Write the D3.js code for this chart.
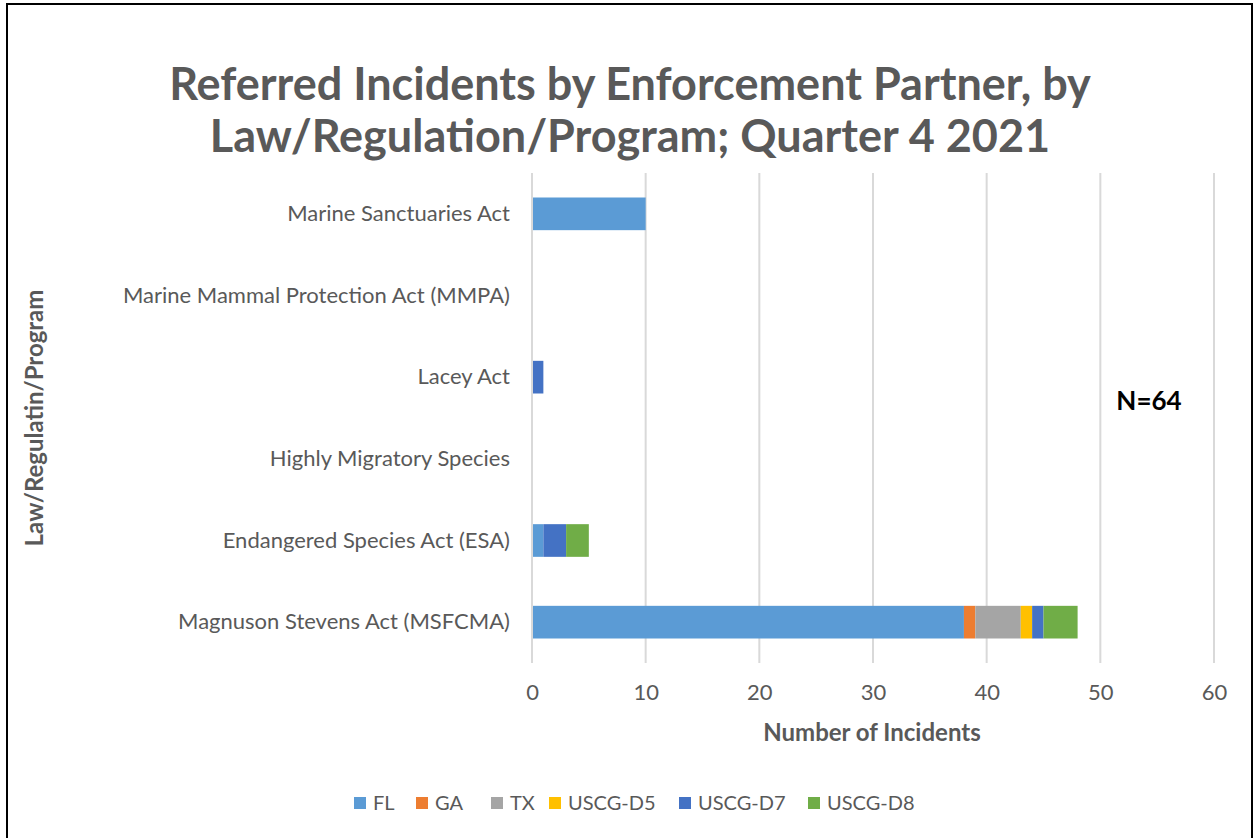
<!DOCTYPE html>
<html lang="en">
<head>
<meta charset="UTF-8">
<script src="https://d3js.org/d3.v7.min.js"></script>
<style>
  body { margin: 0; background: #fff; }
  svg { font-family: Lato, "Open Sans", sans-serif; }
</style>
</head>
<body>
<script>
// data
const laws = ["Marine Sanctuaries Act", "Marine Mammal Protection Act (MMPA)", "Lacey Act",
  "Highly Migratory Species", "Endangered Species Act (ESA)", "Magnuson Stevens Act (MSFCMA)"];
const partners = ["FL", "GA", "TX", "USCG-D5", "USCG-D7", "USCG-D8"];
const FL     = [10, 0, 0, 0, 1, 38];
const GA     = [0, 0, 0, 0, 0, 1];
const TX     = [0, 0, 0, 0, 0, 4];
const D5     = [0, 0, 0, 0, 0, 1];
const D7     = [0, 0, 1, 0, 2, 1];
const D8     = [0, 0, 0, 0, 2, 3];
const xTicks = [0, 10, 20, 30, 40, 50, 60];
const colors = ["#5b9bd5", "#ed7d31", "#a5a5a5", "#ffc000", "#4472c4", "#70ad47"];

const w = 1255, h = 838;
const svg = d3.select("body").append("svg").attr("width", w).attr("height", h);

// frame
svg.append("rect").attr("x", 7).attr("y", 4).attr("width", 1245).attr("height", 840)
  .attr("fill", "none").attr("stroke", "#000").attr("stroke-width", 2);

// title
const title = svg.append("text").attr("text-anchor", "middle")
  .attr("font-size", 45).attr("font-weight", "bold").attr("fill", "#595959");
title.append("tspan").attr("x", 630).attr("y", 100).text("Referred Incidents by Enforcement Partner, by");
title.append("tspan").attr("x", 630).attr("y", 152).text("Law/Regulation/Program; Quarter 4 2021");

const table = laws.map((law, i) => {
  const row = { law };
  [FL, GA, TX, D5, D7, D8].forEach((s, j) => row[partners[j]] = s[i]);
  return row;
});
const stacked = d3.stack().keys(partners)(table);

const x = d3.scaleLinear().domain([0, 60]).range([532, 1214]);
const y = d3.scaleBand().domain(laws).range([173, 663]).paddingInner(0.6).paddingOuter(0.3);

// gridlines
svg.append("g").selectAll("line").data(xTicks.slice(1)).join("line")
  .attr("x1", d => x(d)).attr("x2", d => x(d))
  .attr("y1", 173).attr("y2", 663)
  .attr("stroke", "#d9d9d9").attr("stroke-width", 2);

// bars
svg.append("g").selectAll("g").data(stacked).join("g")
  .attr("fill", (d, i) => colors[i])
  .selectAll("rect").data(d => d).join("rect")
  .attr("x", d => x(d[0]))
  .attr("y", d => y(d.data.law))
  .attr("width", d => x(d[1]) - x(d[0]))
  .attr("height", y.bandwidth());

// vertical axis line at 0
svg.append("line").attr("x1", x(0)).attr("x2", x(0)).attr("y1", 173).attr("y2", 663)
  .attr("stroke", "#d9d9d9").attr("stroke-width", 2);

// x axis labels
const xAxis = d3.axisBottom(x).tickValues(xTicks).tickSize(0).tickPadding(0);
const gx = svg.append("g").attr("transform", "translate(0,700)").call(xAxis);
gx.select(".domain").remove();
gx.selectAll("text").attr("font-size", 22).attr("fill", "#595959").attr("dy", 0)
  .attr("font-family", "Lato, sans-serif");

// y axis labels
const yAxis = d3.axisLeft(y).tickSize(0).tickPadding(22);
const gy = svg.append("g").attr("transform", `translate(${x(0)},0)`).call(yAxis);
gy.select(".domain").remove();
gy.selectAll("text").attr("font-size", 22).attr("fill", "#595959")
  .attr("font-family", "Lato, sans-serif");

// axis titles
svg.append("text").attr("x", 872).attr("y", 741).attr("text-anchor", "middle")
  .attr("font-size", 24).attr("font-weight", "bold").attr("fill", "#595959")
  .text("Number of Incidents");
svg.append("text").attr("transform", "translate(43,418) rotate(-90)").attr("text-anchor", "middle")
  .attr("font-size", 24).attr("font-weight", "bold").attr("fill", "#595959")
  .text("Law/Regulatin/Program");

// N label
svg.append("text").attr("x", 1149).attr("y", 410).attr("text-anchor", "middle")
  .attr("font-size", 26).attr("font-weight", "bold").attr("fill", "#000")
  .text("N=64");

// legend
const legendX = [354, 416, 491, 549, 679, 808];
const lg = svg.append("g").selectAll("g").data(partners).join("g")
  .attr("transform", (d, i) => `translate(${legendX[i]},797)`);
lg.append("rect").attr("width", 12).attr("height", 12).attr("fill", (d, i) => colors[i]);
lg.append("text").attr("x", 19).attr("y", 13).attr("font-size", 20).attr("fill", "#595959")
  .text(d => d);
</script>
</body>
</html>
